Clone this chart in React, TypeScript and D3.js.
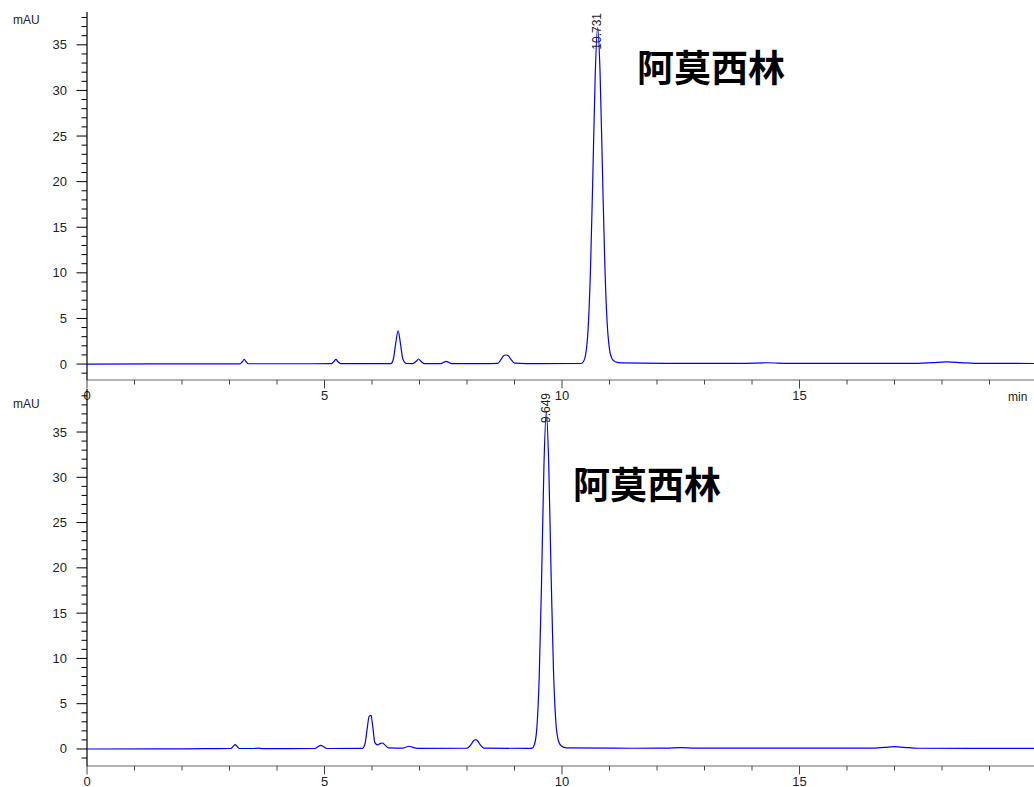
import React from "react";
import * as d3 from "d3";

// top run: retention time (min) / absorbance (mAU)
const topTimes = [0, 1.5, 2.5, 3.22, 3.27, 3.31, 3.35, 3.4, 4.5, 5.15, 5.2, 5.24, 5.28, 5.34, 6.0, 6.4, 6.45, 6.5, 6.55, 6.6, 6.65, 6.72, 6.85, 6.93, 6.98, 7.03, 7.1, 7.45, 7.51, 7.56, 7.61, 7.68, 8.3, 8.65, 8.72, 8.77, 8.82, 8.87, 8.92, 9.0, 9.5, 10.4, 10.45, 10.5, 10.55, 10.6, 10.65, 10.7, 10.75, 10.8, 10.85, 10.9, 10.95, 11.0, 11.05, 11.12, 11.25, 12.5, 13.8, 14.3, 14.8, 17.5, 17.8, 18.1, 18.4, 18.7, 20];
const topValues = [0, 0.01, 0.02, 0.02, 0.25, 0.51, 0.25, 0.03, 0.03, 0.05, 0.28, 0.51, 0.28, 0.05, 0.04, 0.05, 0.55, 2.3, 3.65, 2.2, 0.55, 0.06, 0.05, 0.3, 0.55, 0.3, 0.05, 0.05, 0.2, 0.3, 0.2, 0.04, 0.04, 0.08, 0.55, 0.9, 0.99, 0.9, 0.55, 0.1, 0.04, 0.06, 0.25, 1.1, 3.9, 10.4, 20.8, 31.8, 36.9, 32.2, 21.6, 11.2, 4.6, 1.6, 0.6, 0.25, 0.12, 0.08, 0.08, 0.14, 0.08, 0.08, 0.16, 0.24, 0.16, 0.07, 0.06];

// bottom run
const botTimes = [0, 1.5, 2.5, 3.03, 3.08, 3.12, 3.16, 3.21, 3.5, 3.6, 3.7, 4.8, 4.86, 4.92, 4.98, 5.05, 5.8, 5.85, 5.9, 5.94, 5.98, 6.02, 6.06, 6.12, 6.18, 6.22, 6.27, 6.35, 6.65, 6.72, 6.78, 6.85, 6.95, 8.0, 8.08, 8.13, 8.18, 8.23, 8.28, 8.36, 9.3, 9.37, 9.42, 9.47, 9.52, 9.57, 9.62, 9.67, 9.72, 9.77, 9.82, 9.87, 9.92, 9.98, 10.1, 11.5, 12.2, 12.5, 12.8, 16.5, 16.8, 17.0, 17.2, 17.5, 20];
const botValues = [0, 0.01, 0.03, 0.05, 0.3, 0.47, 0.28, 0.05, 0.05, 0.1, 0.04, 0.05, 0.25, 0.4, 0.25, 0.05, 0.07, 0.5, 2.3, 3.6, 3.7, 2.3, 0.7, 0.45, 0.62, 0.66, 0.45, 0.12, 0.1, 0.22, 0.3, 0.2, 0.07, 0.08, 0.45, 0.85, 1.03, 0.85, 0.45, 0.1, 0.06, 0.1, 0.5, 2.3, 7.9, 18.6, 31.3, 37.2, 31.6, 19.4, 8.8, 3.0, 1.0, 0.35, 0.12, 0.08, 0.1, 0.16, 0.09, 0.09, 0.18, 0.25, 0.18, 0.08, 0.06];

const topPeakLabel = "10.731";
const topPeakTime = 10.75;
const botPeakLabel = "9.649";
const botPeakTime = 9.67;
const compoundName = "阿莫西林";
const yTicks = [0, 5, 10, 15, 20, 25, 30, 35];
const xTicks = [0, 5, 10, 15];

const W = 1034;
const H = 787;

type PanelProps = {
  times: number[];
  values: number[];
  axisY: number;
  axisTop: number;
  yMin: number;
  yMax: number;
  mauY: number;
  peakLabel: string;
  peakTime: number;
  labelTop: number;
  nameX: number;
  nameY: number;
  showMin: boolean;
};

function Panel(props: PanelProps) {
  const { times, values, axisY, axisTop, yMin, yMax, mauY, peakLabel, peakTime, labelTop, nameX, nameY, showMin } = props;
  const xScale = d3.scaleLinear().domain([0, 20]).range([87, 1037]);
  const yScale = d3.scaleLinear().domain([yMin, yMax]).range([axisY, axisTop]);
  const pts = times.map((t, i) => [t, values[i]] as [number, number]);
  const line = d3
    .line<[number, number]>()
    .x((d) => xScale(d[0]))
    .y((d) => yScale(d[1]))
    .curve(d3.curveMonotoneX);
  const minorY = d3.range(Math.ceil(yMin), Math.floor(yMax) + 1);
  const minorX = d3.range(0, 21);
  const font = "'Liberation Sans', Arial, sans-serif";

  return (
    <g>
      {/* x axis */}
      <line x1={87} x2={W} y1={axisY} y2={axisY} stroke="#666" strokeWidth={1.2} />
      {minorX.map((t) => (
        <line key={"mx" + t} x1={xScale(t)} x2={xScale(t)} y1={axisY} y2={axisY + (t % 5 === 0 ? 8.5 : 4.5)} stroke="#444" strokeWidth={1} />
      ))}
      {xTicks.map((t) => (
        <text key={"xl" + t} x={xScale(t)} y={axisY + 20} textAnchor="middle" fontSize={13} fontFamily={font} fill="#222">
          {t}
        </text>
      ))}
      {showMin && (
        <text x={1008} y={axisY + 21} fontSize={12} fontFamily={font} fill="#222">
          min
        </text>
      )}

      {/* y axis */}
      <line x1={87} x2={87} y1={axisTop} y2={axisY} stroke="#000" strokeWidth={1.2} />
      {minorY.map((v) => (
        <line key={"my" + v} x1={v % 5 === 0 ? 76.5 : 81.5} x2={87} y1={yScale(v)} y2={yScale(v)} stroke="#000" strokeWidth={1} />
      ))}
      {yTicks.map((v) => (
        <text key={"yl" + v} x={67} y={yScale(v) + 4.5} textAnchor="end" fontSize={13} fontFamily={font} fill="#222">
          {v}
        </text>
      ))}
      <text x={13} y={mauY} fontSize={12} fontFamily={font} fill="#222">
        mAU
      </text>

      {/* trace */}
      <path d={line(pts) ?? ""} fill="none" stroke="#0000ff" strokeWidth={1.2} strokeLinejoin="round" />

      {/* peak label */}
      <text
        transform={`translate(${xScale(peakTime) + 3.5}, ${labelTop}) rotate(-90)`}
        textAnchor="end"
        fontSize={12}
        fontFamily={font}
        fill="#222"
      >
        {peakLabel}
      </text>

      <text x={nameX} y={nameY} fontSize={37} fontWeight={700} fontFamily="'Noto Sans CJK SC', sans-serif" fill="#000">
        {compoundName}
      </text>
    </g>
  );
}

export default function App() {
  return (
    <svg width={W} height={H} style={{ position: "absolute", left: 0, top: 0, background: "#fff" }}>
      <rect x={0} y={0} width={W} height={H} fill="#fff" />
      <Panel
        times={topTimes}
        values={topValues}
        axisY={380}
        axisTop={12}
        yMin={-1.75}
        yMax={38.6}
        mauY={24}
        peakLabel={topPeakLabel}
        peakTime={topPeakTime}
        labelTop={13}
        nameX={637}
        nameY={82}
        showMin={true}
      />
      <Panel
        times={botTimes}
        values={botValues}
        axisY={766}
        axisTop={389}
        yMin={-1.88}
        yMax={39.75}
        mauY={408}
        peakLabel={botPeakLabel}
        peakTime={botPeakTime}
        labelTop={393}
        nameX={573}
        nameY={499}
        showMin={false}
      />
    </svg>
  );
}
